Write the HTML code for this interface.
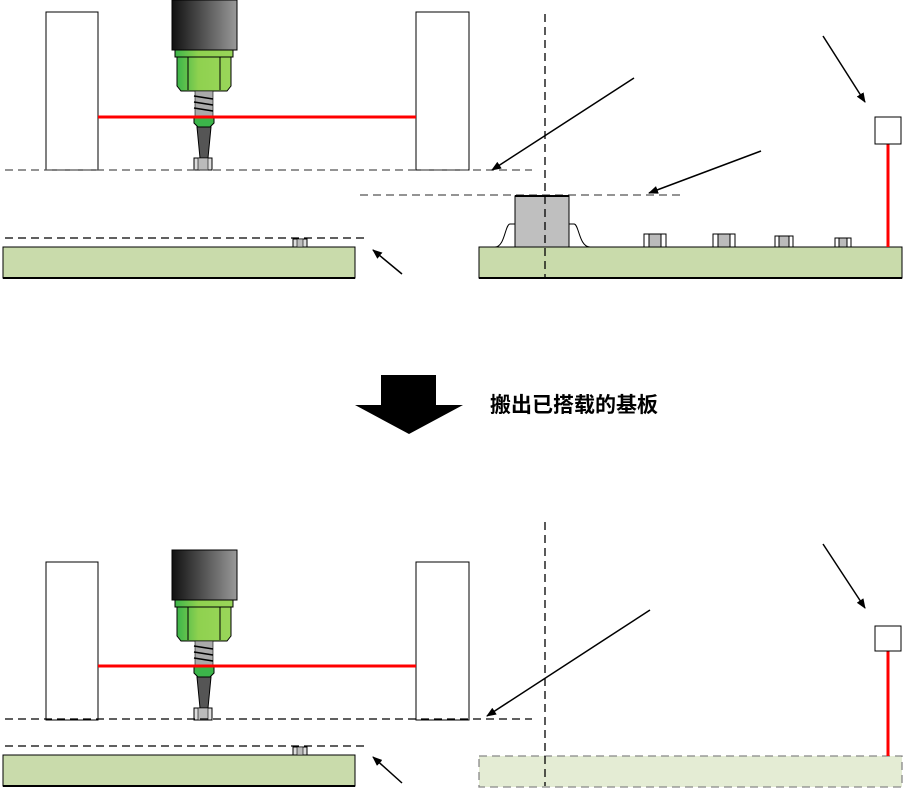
<!DOCTYPE html>
<html><head><meta charset="utf-8"><style>
html,body{margin:0;padding:0;background:#fff;width:904px;height:794px;overflow:hidden}
svg{display:block}
</style></head><body>
<svg width="904" height="794" viewBox="0 0 904 794" xmlns="http://www.w3.org/2000/svg">
<defs>
<linearGradient id="dk" x1="0" x2="1"><stop offset="0" stop-color="#111"/><stop offset="1" stop-color="#999"/></linearGradient>
<linearGradient id="gr" x1="0" x2="1"><stop offset="0" stop-color="#3cb54a"/><stop offset="0.4" stop-color="#8fd14f"/><stop offset="1" stop-color="#9ad65a"/></linearGradient>
<marker id="ah" markerWidth="10" markerHeight="8" refX="9" refY="4" orient="auto" markerUnits="userSpaceOnUse" viewBox="0 0 10 8"><path d="M0,0 L10,4 L0,8 z" fill="#000"/></marker>
<g id="noz">
<rect x="172" y="0" width="65" height="50" fill="url(#dk)" stroke="#000"/>
<rect x="175" y="50" width="58" height="7" fill="url(#gr)" stroke="#000"/>
<path d="M177,57 L231,57 L231,86 L227,91 L181,91 L177,86 Z" fill="url(#gr)" stroke="#000"/>
<line x1="188" y1="57" x2="188" y2="90" stroke="#000"/><line x1="220" y1="57" x2="220" y2="90" stroke="#000"/>
<rect x="195" y="91" width="18" height="26" fill="#aaa" stroke="#000" stroke-width="0.6"/>
<path d="M194,96 L213,99 M194,102 L213,105 M194,108 L213,111" stroke="#000" stroke-width="1.6"/>
<path d="M194,117 L214,117 L214,123 L210,127 L198,127 L194,123 Z" fill="#3cb54a" stroke="#000"/>
<path d="M197,127 L211,127 L208,158 L200,158 Z" fill="#555" stroke="#000"/>
<rect x="194" y="158" width="18" height="12" fill="#ddd" stroke="#000"/>
<rect x="198" y="158" width="10" height="12" fill="#bbb" stroke="#000" stroke-width="0.6"/>
</g>
</defs>
<g fill="none" stroke="#000" stroke-width="1">
<rect x="46" y="12" width="52" height="158" fill="#fff"/>
<rect x="416" y="12" width="53" height="158" fill="#fff"/>
</g>
<use href="#noz"/>
<line x1="98" y1="117" x2="416" y2="117" stroke="#f00" stroke-width="3"/>
<g stroke-dasharray="8,5" stroke="#555" stroke-width="1.3">
<line x1="5" y1="170" x2="532" y2="170"/>
<line x1="360" y1="195" x2="683" y2="195"/>
</g>
<line x1="5" y1="238" x2="368" y2="238" stroke="#000" stroke-dasharray="8,5" stroke-width="1.3"/>
<rect x="3" y="247" width="352" height="31" fill="#c9dbab" stroke="#000"/>
<line x1="3" y1="278" x2="355" y2="278" stroke="#000" stroke-width="2"/>
<rect x="293" y="239" width="14" height="8" fill="#ddd" stroke="#000"/><rect x="297" y="239" width="6" height="8" fill="#bbb" stroke="#000" stroke-width="0.6"/>
<rect x="479" y="247" width="423" height="31" fill="#c9dbab" stroke="#000"/>
<line x1="479" y1="278" x2="902" y2="278" stroke="#000" stroke-width="2"/>
<path d="M495,247 C505,247 505,224 510,224 L515,224 M569,224 L574,224 C579,224 579,247 590,247" fill="none" stroke="#000"/>
<rect x="515" y="196" width="54" height="51" fill="#bfbfbf" stroke="#000"/>
<line x1="515" y1="196" x2="569" y2="196" stroke="#000" stroke-width="2"/>
<g stroke="#000" fill="#fff">
<rect x="644" y="234" width="22" height="13"/><rect x="649" y="234" width="12" height="13" fill="#bbb"/>
<rect x="713" y="234" width="22" height="13"/><rect x="718" y="234" width="12" height="13" fill="#bbb"/>
<rect x="775" y="236" width="18" height="11"/><rect x="779" y="236" width="10" height="11" fill="#bbb"/>
<rect x="835" y="238" width="16" height="9"/><rect x="839" y="238" width="8" height="9" fill="#bbb"/>
</g>
<line x1="545" y1="14" x2="545" y2="278" stroke="#000" stroke-dasharray="8,5" stroke-width="1.3"/>
<line x1="888" y1="144" x2="888" y2="247" stroke="#f00" stroke-width="3"/>
<rect x="875" y="117" width="26" height="27" fill="#fff" stroke="#000"/>
<g stroke="#000" stroke-width="1.5" marker-end="url(#ah)">
<line x1="634" y1="78" x2="492" y2="170"/>
<line x1="761" y1="151" x2="649" y2="193"/>
<line x1="823" y1="36" x2="865" y2="102"/>
<line x1="402" y1="274" x2="373" y2="250"/>
</g>
<path d="M381,375 L436,375 L436,405 L463,405 L409,434 L355,405 L381,405 Z" fill="#000"/>
<text x="490" y="412" font-family="'Liberation Sans','Noto Sans CJK SC',sans-serif" font-size="21" font-weight="bold" fill="#000">搬出已搭载的基板</text>
<rect x="46" y="562" width="52" height="158" fill="#fff" stroke="#000"/>
<rect x="416" y="562" width="53" height="158" fill="#fff" stroke="#000"/>
<use href="#noz" transform="translate(0,550)"/>
<line x1="98" y1="666" x2="416" y2="666" stroke="#f00" stroke-width="3"/>
<line x1="5" y1="719" x2="532" y2="719" stroke="#000" stroke-dasharray="8,5" stroke-width="1.3"/>
<line x1="5" y1="746" x2="368" y2="746" stroke="#000" stroke-dasharray="8,5" stroke-width="1.3"/>
<rect x="3" y="755" width="352" height="31" fill="#c9dbab" stroke="#000"/>
<line x1="3" y1="786" x2="355" y2="786" stroke="#000" stroke-width="2"/>
<rect x="293" y="747" width="14" height="8" fill="#ddd" stroke="#000"/><rect x="297" y="747" width="6" height="8" fill="#bbb" stroke="#000" stroke-width="0.6"/>
<rect x="479" y="756" width="423" height="31" fill="#e4ecd4" stroke="#888" stroke-dasharray="8,5" stroke-width="1.3"/>
<line x1="545" y1="522" x2="545" y2="786" stroke="#000" stroke-dasharray="8,5" stroke-width="1.3"/>
<line x1="888" y1="651" x2="888" y2="756" stroke="#f00" stroke-width="3"/>
<rect x="875" y="626" width="26" height="25" fill="#fff" stroke="#000"/>
<g stroke="#000" stroke-width="1.5" marker-end="url(#ah)">
<line x1="650" y1="610" x2="487" y2="716"/>
<line x1="823" y1="544" x2="865" y2="608"/>
<line x1="402" y1="783" x2="373" y2="757"/>
</g>
</svg>
</body></html>
